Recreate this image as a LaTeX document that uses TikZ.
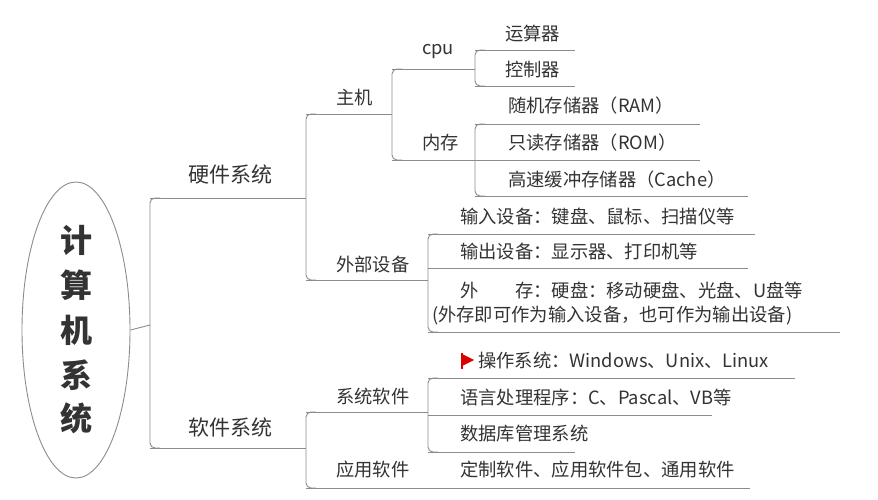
\documentclass[tikz,border=0pt]{standalone}
\usepackage{fontspec}
\setmainfont{Noto Sans CJK SC}
\usetikzlibrary{shapes.geometric}
\begin{document}
\begin{tikzpicture}[x=1pt,y=-1pt,
  t/.style={text=black!80,font=\fontsize{18.3}{20}\selectfont,inner sep=0pt,anchor=west},
  tb/.style={text=black!80,font=\fontsize{21}{23}\selectfont,inner sep=0pt,anchor=west},
  ln/.style={draw=black!45,line width=0.9pt},
  br/.style={ln,rounded corners=5pt}]
\useasboundingbox (0,0) rectangle (878,500);
\fill[white] (0,0) rectangle (878,500);
% root
\node[draw=black!45,line width=0.9pt,ellipse,minimum width=108,minimum height=296,inner sep=0pt] (root) at (76,330) {};
\foreach \c/\y in {计/240,算/285,机/330,系/375,统/418}
  \node[text=black!80,font=\fontsize{32}{34}\selectfont\bfseries] at (76,\y) {\c};
\draw[ln] (root.east) -- (150,325);
% level 1
\draw[br] (160,198) -- (150,198) -- (150,448) -- (160,448);
\draw[ln] (150,198) -- (306,198); \node[tb] (hw) at (188,174) {硬件系统};
\draw[ln] (150,448) -- (306,448); \node[tb] (sw) at (188,427) {软件系统};
% hardware
\draw[br] (316,114) -- (306,114) -- (306,280) -- (316,280);
\draw[ln] (306,114) -- (392,114); \node[t] (zj) at (336,98) {主机};
\draw[ln] (306,280) -- (428,280); \node[t] (wb) at (336,265) {外部设备};
\draw[br] (402,69) -- (392,69) -- (392,160) -- (402,160);
\draw[ln] (392,69) -- (475,69); \node[t] (cpu) at (422,52) {cpu};
\draw[ln] (392,160) -- (475,160); \node[t] (nc) at (422,143) {内存};
\draw[br] (485,50) -- (475,50) -- (475,86) -- (485,86);
\draw[ln] (475,50) -- (575,50); \node[t] (ys) at (505,34) {运算器};
\draw[ln] (475,86) -- (575,86); \node[t] (kz) at (505,70) {控制器};
\draw[br] (485,124) -- (475,124) -- (475,196) -- (485,196);
\draw[ln] (475,124) -- (700,124); \node[t] (ram) at (508,106) {随机存储器（RAM）};
\draw[ln] (475,160) -- (700,160); \node[t] (rom) at (508,143) {只读存储器（ROM）};
\draw[ln] (475,196) -- (748,196); \node[t] (cache) at (508,180) {高速缓冲存储器（Cache）};
\draw[br] (438,234) -- (428,234) -- (428,332) -- (438,332);
\draw[ln] (428,234) -- (755,234); \node[t] (sr) at (460,216) {输入设备：键盘、鼠标、扫描仪等};
\draw[ln] (428,268) -- (748,268); \node[t] (sc) at (460,252) {输出设备：显示器、打印机等};
\draw[ln] (428,332) -- (840,332);
\node[t] (wc1) at (460,290) {外\hspace{2em}存：硬盘：移动硬盘、光盘、U盘等};
\node[t] (wc2) at (432,316) {(外存即可作为输入设备，也可作为输出设备)};
% software
\draw[br] (316,412) -- (306,412) -- (306,488) -- (316,488);
\draw[ln] (306,412) -- (428,412); \node[t] (xt) at (336,397) {系统软件};
\draw[ln] (306,488) -- (750,488); \node[t] (yy) at (336,470) {应用软件};
\node[t] (dz) at (460,470) {定制软件、应用软件包、通用软件};
\draw[br] (438,378) -- (428,378) -- (428,452) -- (438,452);
\draw[ln] (428,378) -- (795,378); \node[t] (cz) at (478,361) {操作系统：Windows、Unix、Linux};
\fill[red!85!black] (462,354) -- (474,360) -- (462,366) -- cycle;
\draw[red!85!black,line width=1.2pt] (462,353) -- (462,369);
\draw[ln] (428,415) -- (712,415); \node[t] (yc) at (460,398) {语言处理程序：C、Pascal、VB等};
\draw[ln] (428,452) -- (575,452); \node[t] (sj) at (460,434) {数据库管理系统};
\end{tikzpicture}
\end{document}
